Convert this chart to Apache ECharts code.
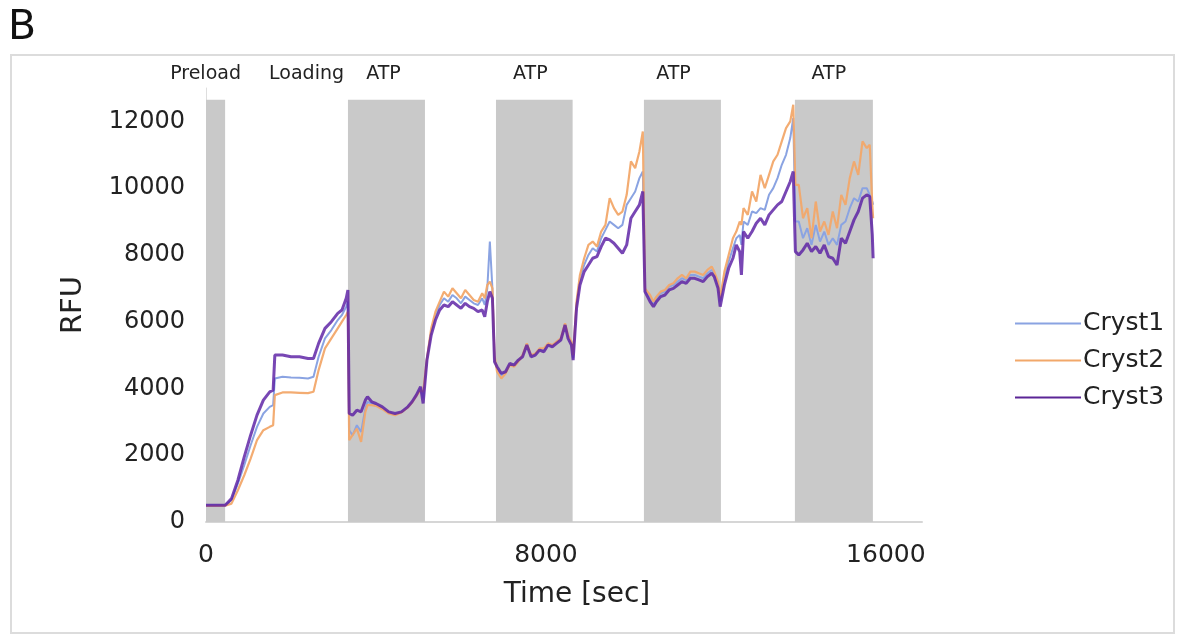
<!DOCTYPE html>
<html><head><meta charset="utf-8">
<script src="https://cdn.jsdelivr.net/npm/echarts@6/dist/echarts.min.js"></script>
<style>html,body{margin:0;padding:0;background:#fff}#c{width:1185px;height:641px}</style>
</head><body><div id="c"></div>
<script>
// time points (sec)
const timeSec = [
  0, 200, 450,
  600, 750, 900, 1050, 1200, 1350, 1500, 1580, 1620, 1800, 2000, 2200, 2400, 2530, 2650, 2800, 2950, 3100, 3200, 3300, 3340,
  3370, 3450, 3550, 3650, 3750, 3800, 3900, 4000, 4150, 4300, 4450, 4600, 4750, 4850, 4950, 5050, 5110,
  5200, 5300, 5400, 5500, 5600, 5700, 5800, 5900, 6000, 6100, 6200, 6300, 6400, 6500, 6560, 6620, 6680, 6740, 6790,
  6850, 6950, 7050, 7150, 7250, 7350, 7450, 7550, 7650, 7750, 7850, 7950, 8050, 8150, 8250, 8350, 8450, 8520, 8600, 8640,
  8720, 8800, 8900, 9000, 9100, 9200, 9300, 9400, 9500, 9600, 9700, 9800, 9900, 10000, 10100, 10200, 10280, 10330,
  10370, 10450, 10530, 10600, 10700, 10800, 10900, 11000, 11100, 11200, 11300, 11400, 11500, 11600, 11700, 11800, 11900, 11960, 12050, 12100,
  12200, 12300, 12400, 12480, 12560, 12600, 12650, 12750, 12850, 12950, 13050, 13150, 13250, 13350, 13450, 13550, 13650, 13750, 13820, 13870,
  13950, 14050, 14150, 14250, 14350, 14450, 14550, 14650, 14750, 14850, 14950, 15050, 15150, 15250, 15350, 15450, 15550, 15620, 15680, 15700
];
const cryst1 = [
  500, 500, 500,
  650, 1150, 1700, 2300, 2850, 3250, 3450, 3500, 4300, 4350, 4330, 4320, 4300, 4350, 4950, 5500, 5750, 6050, 6200, 6450, 6600,
  2750, 2600, 2900, 2700, 3400, 3600, 3550, 3500, 3400, 3280, 3220, 3300, 3450, 3600, 3800, 4000, 3700,
  4880, 5700, 6200, 6500, 6700, 6600, 6800, 6700, 6550, 6750, 6650, 6550, 6500, 6700, 6500, 7000, 8400, 7000, 4900,
  4600, 4400, 4480, 4720, 4680, 4830, 4980, 5320, 4970, 5020, 5170, 5150, 5320, 5280, 5380, 5480, 5920, 5550, 5350, 4900,
  6500, 7300, 7700, 8000, 8200, 8100, 8500, 8750, 9000, 8900, 8800, 8900, 9500, 9700, 9900, 10300, 10500, 6950,
  6950, 6700, 6550, 6700, 6850, 6900, 7050, 7100, 7200, 7300, 7250, 7400, 7400, 7350, 7300, 7450, 7550, 7450, 7100, 6600,
  7300, 7800, 8200, 8500, 8600, 8300, 9000, 8900, 9300, 9250, 9400, 9350, 9800, 10000, 10300, 10700, 11000, 11500, 12100, 9000,
  9000, 8500, 8800, 8300, 8900, 8400, 8700, 8300, 8500, 8300, 8900, 9000, 9400, 9700, 9600, 10000, 10000, 9800, 9600, 9500
];
const cryst2 = [
  480, 480, 490,
  550, 950, 1400, 1900, 2450, 2750, 2850, 2900, 3800, 3880, 3880, 3870, 3860, 3900, 4550, 5200, 5500, 5800, 6000, 6200, 6300,
  2450, 2600, 2800, 2400, 3300, 3500, 3500, 3480, 3380, 3250, 3200, 3280, 3430, 3580, 3780, 3950, 3900,
  4900, 5800, 6300, 6600, 6900, 6750, 7000, 6850, 6700, 6950, 6800, 6650, 6600, 6850, 6700, 7100, 7200, 7000, 5000,
  4500, 4300, 4450, 4700, 4650, 4800, 5000, 5350, 5000, 5050, 5200, 5200, 5350, 5300, 5400, 5500, 5950, 5600, 5400, 5000,
  6600, 7400, 7900, 8300, 8400, 8250, 8700, 8900, 9700, 9400, 9200, 9300, 9800, 10800, 10600, 11100, 11700, 7000,
  7000, 6800, 6600, 6750, 6900, 6950, 7100, 7150, 7300, 7400, 7300, 7500, 7500, 7450, 7400, 7550, 7650, 7500, 7200, 6700,
  7500, 8000, 8500, 8700, 9000, 8900, 9400, 9200, 9900, 9600, 10400, 10000, 10400, 10800, 11000, 11400, 11800, 12000, 12500, 10100,
  10100, 9100, 9400, 8500, 9600, 8700, 9000, 8600, 9300, 8800, 9800, 9500, 10300, 10800, 10400, 11400, 11200, 11300, 9500, 9100
];
const cryst3 = [
  500, 500, 500,
  700, 1250, 1950, 2600, 3200, 3650, 3900, 3950, 5000, 5000, 4950, 4950, 4900, 4900, 5350, 5800, 6000, 6250, 6350, 6700, 6950,
  3250, 3200, 3350, 3300, 3650, 3750, 3600, 3550, 3450, 3300, 3250, 3300, 3450, 3600, 3800, 4050, 3550,
  4850, 5600, 6050, 6350, 6500, 6450, 6600, 6500, 6400, 6550, 6450, 6400, 6300, 6350, 6150, 6600, 6900, 6700, 4800,
  4650, 4450, 4500, 4750, 4700, 4850, 4950, 5300, 4950, 5000, 5150, 5100, 5300, 5250, 5350, 5450, 5900, 5500, 5300, 4850,
  6400, 7100, 7500, 7700, 7900, 7950, 8250, 8500, 8450, 8350, 8200, 8050, 8300, 9100, 9300, 9500, 9900, 6900,
  6850, 6600, 6450, 6600, 6750, 6800, 6950, 7000, 7100, 7200, 7150, 7300, 7300, 7250, 7200, 7350, 7450, 7350, 7000, 6450,
  7100, 7600, 7900, 8300, 8100, 7400, 8700, 8500, 8700, 8950, 9100, 8900, 9200, 9350, 9500, 9600, 9900, 10200, 10500, 8100,
  8000, 8150, 8350, 8100, 8250, 8050, 8300, 7950, 7900, 7700, 8500, 8350, 8700, 9050, 9300, 9700, 9800, 9750, 8600, 7900
];
// phases (sec)
const phaseNames = ['Preload', 'Loading', 'ATP', 'ATP', 'ATP', 'ATP'];
const phaseStart = [0, 450, 3341, 6824, 10306, 13859];
const phaseEnd = [450, 3341, 5153, 8628, 12118, 15694];
const phaseShaded = [true, false, true, true, true, true];
const bandTop = 12650;
const yTicks = [0, 2000, 4000, 6000, 8000, 10000, 12000];
const xTicks = [0, 8000, 16000];

const FONT = 'DejaVu Sans';
const labelOffsets = [[-10, 0], [20, 0], [-3, 0], [-4, 0], [-9, 0], [-5, 0]];
const areas = phaseNames.map((n, i) => [
  { name: n, xAxis: phaseStart[i], yAxis: 0,
    itemStyle: { color: phaseShaded[i] ? '#c9c9c9' : 'rgba(0,0,0,0)' },
    label: { offset: labelOffsets[i] } },
  { xAxis: phaseEnd[i], yAxis: bandTop }
]);
const pts = arr => timeSec.map((t, i) => [t, arr[i]]);

const chart = echarts.init(document.getElementById('c'), null, { renderer: 'canvas' });
chart.setOption({
  backgroundColor: '#fff',
  animation: false,
  graphic: [
    { type: 'rect', shape: { x: 11, y: 55, width: 1163, height: 578 }, style: { fill: 'none', stroke: '#dcdcdc', lineWidth: 2 }, z: -10 },
    { type: 'text', left: 8, top: 8, style: { text: 'B', font: '41px "DejaVu Sans"', fill: '#111' } }
  ],
  legend: {
    orient: 'vertical', left: 1010, top: 306, itemGap: 12,
    itemWidth: 66, itemHeight: 2, icon: 'rect',
    data: [
      { name: 'Cryst1', itemStyle: { color: '#8aa3e2' } },
      { name: 'Cryst2', itemStyle: { color: '#f2a86a' } },
      { name: 'Cryst3', itemStyle: { color: '#5b2596' } }
    ],
    textStyle: { fontFamily: FONT, fontSize: 25, color: '#222', padding: [0, 0, 0, -3] }
  },
  grid: { left: 206, right: 263, top: 88, bottom: 119 },
  xAxis: {
    type: 'value', min: 0, max: 16850, interval: 8000,
    name: 'Time [sec]', nameLocation: 'middle', nameGap: 59,
    nameTextStyle: { fontFamily: FONT, fontSize: 28, color: '#222', padding: [0, 0, 0, 26] },
    axisLine: { show: true, lineStyle: { color: '#d6d6d6', width: 2 } },
    axisTick: { show: false }, splitLine: { show: false },
    axisLabel: { showMaxLabel: false, margin: 21, fontFamily: FONT, fontSize: 25, color: '#222',
      formatter: v => xTicks.includes(v) ? String(v) : '' }
  },
  yAxis: {
    type: 'value', min: 0, max: 13000, interval: 2000,
    name: 'RFU', nameLocation: 'middle', nameGap: 102, nameRotate: 90,
    nameTextStyle: { fontFamily: FONT, fontSize: 29, color: '#222', padding: [0, 0, 16, 0] },
    axisLine: { show: true, lineStyle: { color: '#dedede', width: 1 } },
    axisTick: { show: false }, splitLine: { show: false },
    axisLabel: { showMaxLabel: false, margin: 21, fontFamily: FONT, fontSize: 24, color: '#222',
      formatter: v => yTicks.includes(v) ? String(v) : '' }
  },
  series: [
    { name: 'phases', type: 'line', data: [], z: 0, silent: true,
      markArea: { silent: true, data: areas,
        label: { show: true, position: 'top', distance: 16, fontFamily: FONT, fontSize: 19, color: '#222' } } },
    { name: 'Cryst1', type: 'line', data: pts(cryst1), showSymbol: false, symbol: 'none', z: 3,
      lineStyle: { color: '#8aa3e2', width: 2 }, itemStyle: { color: '#8aa3e2' } },
    { name: 'Cryst2', type: 'line', data: pts(cryst2), showSymbol: false, symbol: 'none', z: 4,
      lineStyle: { color: '#f2a86a', width: 2.2, opacity: 0.95 }, itemStyle: { color: '#f2a86a' } },
    { name: 'Cryst3', type: 'line', data: pts(cryst3), showSymbol: false, symbol: 'none', z: 5,
      lineStyle: { color: '#5a1fa3', width: 3, opacity: 0.82 }, itemStyle: { color: '#5a1fa3' } }
  ]
});
</script></body></html>
